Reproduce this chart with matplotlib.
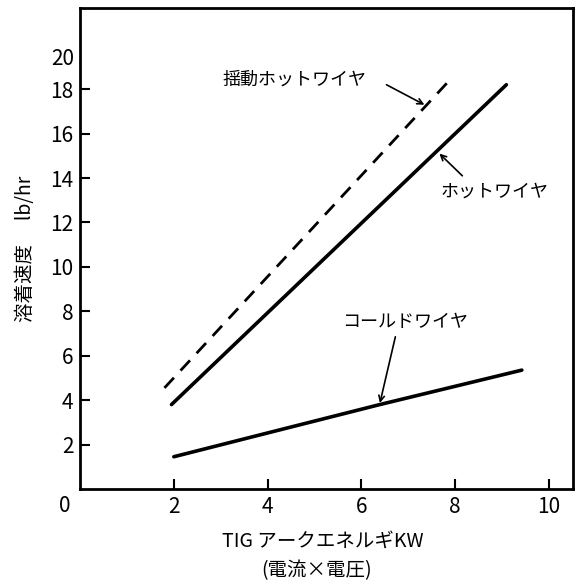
import matplotlib.pyplot as plt

plt.rcParams['font.family'] = ['Noto Sans CJK JP', 'DejaVu Sans']

# 揺動ホットワイヤ (dashed)
osc_x = [1.8, 7.93]
osc_y = [4.55, 18.5]
# ホットワイヤ
hot_x = [1.95, 9.1]
hot_y = [3.8, 18.2]
# コールドワイヤ
cold_x = [2.0, 4.3, 6.4, 9.43]
cold_y = [1.45, 2.68, 3.8, 5.35]

xticks = [2, 4, 6, 8, 10]
yticks = [2, 4, 6, 8, 10, 12, 14, 16, 18]

fig = plt.figure(figsize=(5.81, 5.80), dpi=100)
ax = fig.add_axes([0.138, 0.157, 0.848, 0.829])

ax.plot(osc_x, osc_y, color='black', lw=2, linestyle=(0, (5, 3.5)))
ax.plot(hot_x, hot_y, color='black', lw=2.6, solid_capstyle='round')
ax.plot(cold_x, cold_y, color='black', lw=2.6, solid_capstyle='round')

arrow = dict(arrowstyle='->', color='black', lw=1.2, shrinkA=0, shrinkB=0)
ax.annotate('', xy=(7.35, 17.3), xytext=(6.54, 18.2), arrowprops=arrow)
ax.text(4.57, 18.45, '揺動ホットワイヤ', fontsize=13, ha='center', va='center')
ax.annotate('', xy=(7.67, 15.1), xytext=(8.16, 14.1), arrowprops=arrow)
ax.text(8.85, 13.4, 'ホットワイヤ', fontsize=13, ha='center', va='center')
ax.annotate('', xy=(6.4, 3.87), xytext=(6.73, 6.85), arrowprops=arrow)
ax.text(6.94, 7.5, 'コールドワイヤ', fontsize=13, ha='center', va='center')

ax.set_xlim(0, 10.52)
ax.set_ylim(0, 21.65)
ax.set_xticks(xticks)
ax.set_yticks(yticks)
ax.tick_params(direction='in', length=7, width=1.5, labelsize=15, pad=5)
for s in ax.spines.values():
    s.set_linewidth(2)

ax.text(-0.13, 19.35, '20', fontsize=15, ha='right', va='center')
ax.text(-0.32, -0.75, '0', fontsize=15, ha='center', va='center')

ax.set_ylabel('溶着速度　 lb/hr', fontsize=14, labelpad=10)
fig.text(0.555, 0.066, 'TIG アークエネルギKW', fontsize=14, ha='center', va='center')
fig.text(0.545, 0.017, '(電流×電圧)', fontsize=14, ha='center', va='center')

fig.savefig('out.png', dpi=100)
